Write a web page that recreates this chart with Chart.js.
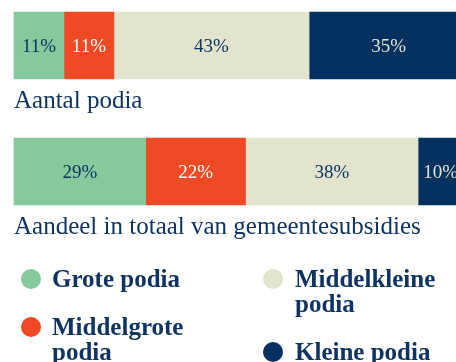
<!DOCTYPE html>
<html>
<head>
<meta charset="utf-8">
<script src="https://cdn.jsdelivr.net/npm/chart.js@4.4.1/dist/chart.umd.min.js"></script>
<style>
  html, body { margin: 0; padding: 0; background: #ffffff; overflow: hidden; }
  #wrap { position: absolute; left: 0; top: 0; width: 470px; height: 362px; }
</style>
</head>
<body>
<div id="wrap"><canvas id="chart" width="470" height="362"></canvas></div>
<script>
// Podia: share of venues and share of municipal subsidies, by venue size
const categories = ['Aantal podia', 'Aandeel in totaal van gemeentesubsidies'];
const grotePodia = [11, 29];
const middelgrotePodia = [11, 22];
const middelkleinePodia = [43, 38];
const kleinePodia = [35, 10];

const seriesNames = [['Grote podia'], ['Middelgrote', 'podia'], ['Middelkleine', 'podia'], ['Kleine podia']];

const INK = '#0f3462';
const COLORS = ['#85c99d', '#ef4a25', '#e2e4ce', '#02305f'];
const LABEL_COLORS = [INK, '#ffffff', INK, '#e2e4ce'];
const SERIF = '"Liberation Serif", "DejaVu Serif", serif';

// Percentage text centred in each bar segment
const segmentLabels = {
  id: 'segmentLabels',
  afterDatasetsDraw(chart) {
    const ctx = chart.ctx;
    ctx.save();
    ctx.font = '19px ' + SERIF;
    ctx.textAlign = 'center';
    ctx.textBaseline = 'middle';
    chart.data.datasets.forEach((ds, di) => {
      const meta = chart.getDatasetMeta(di);
      meta.data.forEach((bar, i) => {
        ctx.fillStyle = LABEL_COLORS[di];
        ctx.fillText(ds.data[i] + '%', (bar.x + bar.base) / 2, bar.y + 2);
      });
    });
    ctx.restore();
  }
};

// Category caption under each bar, left aligned
const captions = {
  id: 'captions',
  afterDraw(chart) {
    const ctx = chart.ctx;
    const meta = chart.getDatasetMeta(0);
    ctx.save();
    ctx.font = '25px ' + SERIF;
    ctx.fillStyle = INK;
    ctx.textAlign = 'left';
    ctx.textBaseline = 'alphabetic';
    meta.data.forEach((bar, i) => {
      ctx.fillText(chart.data.labels[i], chart.chartArea.left, bar.y + bar.height / 2 + 29);
    });
    ctx.restore();
  }
};

// Two-column legend with dot markers
const dotLegend = {
  id: 'dotLegend',
  afterDraw(chart) {
    const ctx = chart.ctx;
    const cols = [{ dot: 31, text: 52 }, { dot: 273, text: 295 }];
    const order = [[0, 1], [2, 3]];
    const firstBaseline = 287, lineGap = 25, itemGap = 48;
    ctx.save();
    ctx.font = 'bold 25px ' + SERIF;
    ctx.textAlign = 'left';
    ctx.textBaseline = 'alphabetic';
    order.forEach((items, c) => {
      let y = firstBaseline;
      items.forEach(di => {
        const ds = chart.data.datasets[di];
        ctx.fillStyle = ds.backgroundColor;
        ctx.beginPath();
        ctx.arc(cols[c].dot, y - 8, 10, 0, Math.PI * 2);
        ctx.fill();
        ctx.fillStyle = INK;
        const lines = seriesNames[di];
        lines.forEach((line, li) => ctx.fillText(line, cols[c].text, y + li * lineGap));
        y += (lines.length - 1) * lineGap + itemGap;
      });
    });
    ctx.restore();
  }
};

const seriesData = [grotePodia, middelgrotePodia, middelkleinePodia, kleinePodia];

new Chart(document.getElementById('chart'), {
  type: 'bar',
  data: {
    labels: categories,
    datasets: seriesData.map((d, i) => ({
      label: seriesNames[i].join(' '),
      data: d,
      backgroundColor: COLORS[i],
      borderWidth: 0,
      barThickness: 67,
      clip: false
    }))
  },
  options: {
    indexAxis: 'y',
    responsive: false,
    animation: false,
    layout: { padding: { left: 14, right: 2, top: 45.5, bottom: 190.5 } },
    scales: {
      x: { stacked: true, min: 0, max: 100, display: false },
      y: { stacked: true, offset: false, display: false }
    },
    plugins: {
      legend: { display: false },
      tooltip: { enabled: false }
    }
  },
  plugins: [segmentLabels, captions, dotLegend]
});
</script>
</body>
</html>
